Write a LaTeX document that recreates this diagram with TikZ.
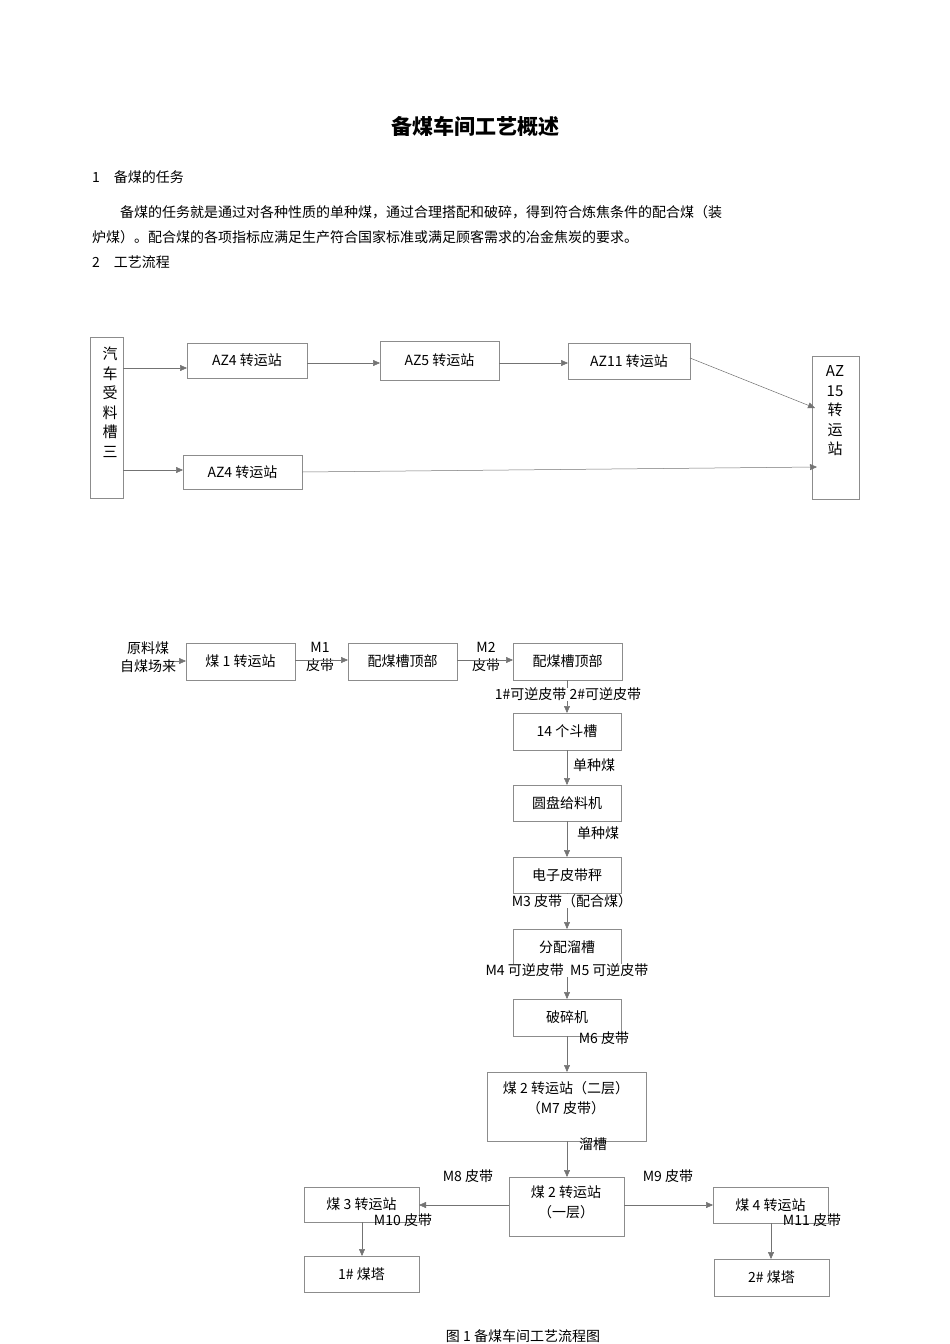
\documentclass[tikz,border=0pt]{standalone}
\usepackage{fontspec}
\setmainfont{Noto Sans CJK SC}
\usetikzlibrary{arrows.meta}
\begin{document}
\begin{tikzpicture}[x=1pt,y=-1pt,
  bx/.style={draw=black!45,line width=0.6pt},
  ar/.style={-{Triangle[length=7pt,width=6pt]},draw=black!55,line width=0.5pt},
  t/.style={font=\fontsize{14}{17}\selectfont,inner sep=0pt},
  lt/.style={t,anchor=west}]
\useasboundingbox (0,0) rectangle (950,1344);
\node[t,font=\fontsize{21}{24}\selectfont\bfseries] (title) at (475,126) {备煤车间工艺概述};
\node[lt] (s1) at (92,177) {1\quad 备煤的任务};
\node[lt] (p1) at (92,212) {\hspace{28pt}备煤的任务就是通过对各种性质的单种煤，通过合理搭配和破碎，得到符合炼焦条件的配合煤（装};
\node[lt] (p2) at (92,237) {炉煤）。配合煤的各项指标应满足生产符合国家标准或满足顾客需求的冶金焦炭的要求。};
\node[lt] (s2) at (92,262) {2\quad 工艺流程};
% top diagram
\draw[bx] (90,337) rectangle (123,498);
\node[t,align=center,font=\fontsize{15}{19.5}\selectfont] (qc) at (110,402) {汽\\车\\受\\料\\槽\\三};
\draw[bx] (187,343) rectangle node[t] (a4) {AZ4 转运站} (307,378);
\draw[bx] (380,341) rectangle node[t] (a5) {AZ5 转运站} (499,380);
\draw[bx] (568,343) rectangle node[t] (a11) {AZ11 转运站} (690,379);
\draw[bx] (812,356) rectangle (859,499);
\node[t,align=center,font=\fontsize{15}{19.5}\selectfont] (a15) at (835,411) {AZ\\15\\转\\运\\站};
\draw[bx] (183,455) rectangle node[t] (a4b) {AZ4 转运站} (302,489);
\coordinate (q1) at (123,368); \coordinate (q2) at (123,470);
\draw[ar] (q1) -- (187,368);
\draw[ar] (307,363) -- (380,363);
\draw[ar] (499,363) -- (568,363);
\draw[ar] (690,358) -- (815,408);
\draw[ar] (q2) -- (183,470);
\draw[ar] (302,472) -- (817,467);
% bottom diagram
\node[t,align=center,font=\fontsize{14}{18}\selectfont] (src) at (148,657) {原料煤\\自煤场来};
\draw[bx] (186,643) rectangle node[t] (m1) {煤 1 转运站} (295,680);
\draw[ar] (175,661) -- (186,661);
\node[t,align=center,font=\fontsize{14}{18}\selectfont] (lm1) at (320,657) {M1\\皮带};
\draw[ar] (295,660) -- (348,660);
\draw[bx] (348,643) rectangle node[t] (pm1) {配煤槽顶部} (457,680);
\node[t,align=center,font=\fontsize{14}{18}\selectfont] (lm2) at (486,657) {M2\\皮带};
\draw[ar] (457,660) -- (513,660);
\draw[bx] (513,643) rectangle node[t] (pm2) {配煤槽顶部} (622,680);
\draw[bx] (513,713) rectangle node[t] (dc) {14 个斗槽} (621,750);
\draw[bx] (513,785) rectangle node[t] (yp) {圆盘给料机} (621,821);
\draw[bx] (513,857) rectangle node[t] (dz) {电子皮带秤} (621,893);
\draw[bx] (513,929) rectangle node[t] (fp) {分配溜槽} (621,965);
\draw[bx] (513,999) rectangle node[t] (ps) {破碎机} (621,1036);
\draw[bx] (487,1072) rectangle (646,1141);
\node[t,align=center,font=\fontsize{14}{20}\selectfont] (m2a) at (566,1098) {煤 2 转运站（二层）\\（M7 皮带）};
\draw[bx] (509,1177) rectangle (624,1236);
\node[t,align=center,font=\fontsize{14}{20}\selectfont] (m2b) at (566,1202) {煤 2 转运站\\（一层）};
\draw[bx] (304,1187) rectangle node[t] (m3) {煤 3 转运站} (419,1222);
\draw[bx] (304,1256) rectangle node[t] (t1) {1\# 煤塔} (419,1292);
\draw[bx] (713,1187) rectangle node[t] (m4) {煤 4 转运站} (828,1223);
\draw[bx] (714,1259) rectangle node[t] (t2) {2\# 煤塔} (829,1296);
\draw[ar] (567,680) -- (567,713);
\draw[ar] (567,750) -- (567,785);
\draw[ar] (567,821) -- (567,857);
\draw[ar] (567,893) -- (567,929);
\draw[ar] (567,965) -- (567,999);
\draw[ar] (567,1036) -- (567,1072);
\draw[ar] (567,1141) -- (567,1177);
\draw[ar] (509,1205) -- (419,1205);
\draw[ar] (624,1205) -- (713,1205);
\draw[ar] (362,1222) -- (362,1256);
\draw[ar] (771,1223) -- (771,1259);
\node[t,fill=white] (l1) at (568,694) {1\#可逆皮带 2\#可逆皮带};
\node[t] (l2) at (594,765) {单种煤};
\node[t] (l3) at (598,833) {单种煤};
\node[t,fill=white] (l4) at (572,901) {M3 皮带（配合煤）};
\node[t,fill=white] (l5) at (567,970) {M4 可逆皮带\ \ M5 可逆皮带};
\node[t] (l6) at (604,1038) {M6 皮带};
\node[t] (l7) at (593,1144) {溜槽};
\node[t] (l8) at (468,1176) {M8 皮带};
\node[t] (l9) at (668,1176) {M9 皮带};
\node[t] (l10) at (403,1220) {M10 皮带};
\node[t] (l11) at (812,1220) {M11 皮带};
\node[t] (cap) at (523,1336) {图 1 备煤车间工艺流程图};
\end{tikzpicture}
\end{document}
